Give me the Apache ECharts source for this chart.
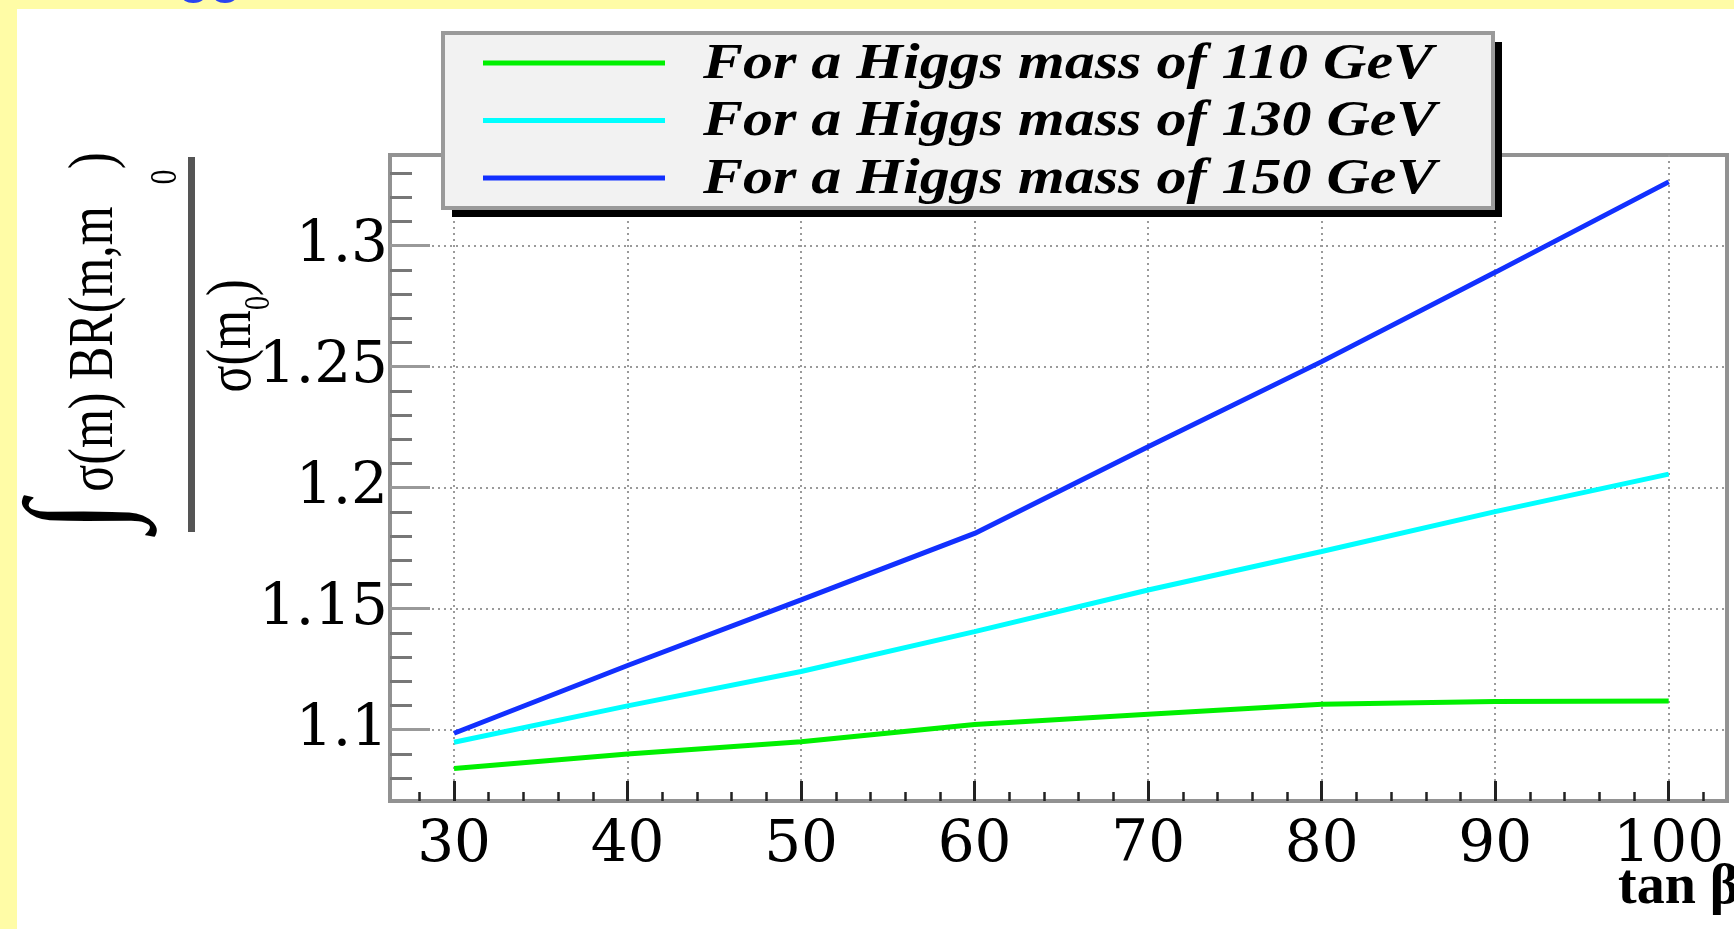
<!DOCTYPE html>
<html>
<head>
<meta charset="utf-8">
<script src="https://cdn.jsdelivr.net/npm/echarts@6/dist/echarts.min.js"></script>
<style>
  html, body { margin: 0; padding: 0; background: #ffffff; }
  #chart { width: 1734px; height: 929px; }
</style>
</head>
<body>
<div id="chart"></div>
<script>
// tan(beta) sample points and the integrated cross-section ratio for three Higgs masses
const tanBeta  = [30, 40, 50, 60, 70, 80, 90, 100];
const ratio110 = [1.0839, 1.0899, 1.0950, 1.1021, 1.1064, 1.1105, 1.1116, 1.1118];
const ratio130 = [1.0948, 1.1098, 1.1240, 1.1405, 1.1577, 1.1736, 1.1901, 1.2056];
const ratio150 = [1.0985, 1.1265, 1.1536, 1.1811, 1.2169, 1.2521, 1.2890, 1.3264];
const seriesNames = [
  'For a Higgs mass of 110 GeV',
  'For a Higgs mass of 130 GeV',
  'For a Higgs mass of 150 GeV'
];
const xTickValues = [30, 40, 50, 60, 70, 80, 90, 100];
const yTickValues = [1.1, 1.15, 1.2, 1.25, 1.3];
const xRange = [26.31, 103.36];
const yRange = [1.0705, 1.3375];

const seriesColors = ['#00f000', '#00ffff', '#1230ff'];
const seriesValues = [ratio110, ratio130, ratio150];

const chart = echarts.init(document.getElementById('chart'), null, { renderer: 'canvas' });

const serifTick = 'DejaVu Serif';
const serif = 'Liberation Serif';

// frame-style legend box (drawn as graphics so the text can be widened)
const legendX = 443, legendY = 33, legendW = 1050, legendH = 175;
const legendRows = [63, 120.5, 178];
const legendEls = [
  { type: 'rect', z: 100, shape: { x: legendX + 9, y: legendY + 9, width: legendW, height: legendH },
    style: { fill: '#000000' } },
  { type: 'rect', z: 101, shape: { x: legendX, y: legendY, width: legendW, height: legendH },
    style: { fill: '#f2f2f2', stroke: '#9a9a9a', lineWidth: 4 } }
];
seriesNames.forEach((name, i) => {
  legendEls.push({
    type: 'line', z: 102,
    shape: { x1: 483, y1: legendRows[i], x2: 665, y2: legendRows[i] },
    style: { stroke: seriesColors[i], lineWidth: 5 }
  });
  legendEls.push({
    type: 'text', z: 102, x: 703, y: legendRows[i] + 2, scaleX: 1.2,
    style: {
      text: name, fill: '#000000',
      fontFamily: serif, fontSize: 50, fontWeight: 'bold', fontStyle: 'italic',
      align: 'left', verticalAlign: 'middle', textAlign: 'left', textVerticalAlign: 'middle'
    }
  });
});

// rotated y-axis title: integral of sigma(m) BR(m,m0) over sigma(m0)
const yTitleEls = [
  { type: 'text', z: 50, x: 84, y: 516, rotation: Math.PI / 2, scaleY: 1.25,
    style: { text: '\u222B', fill: '#000000', fontFamily: serif, fontSize: 110,
      align: 'center', verticalAlign: 'middle', textAlign: 'center', textVerticalAlign: 'middle' } },
  { type: 'text', z: 50, x: 96, y: 322, rotation: Math.PI / 2, scaleY: 1.25,
    style: { text: '\u03C3(m) BR(m,m   )', fill: '#000000', fontFamily: serif, fontSize: 50,
      align: 'center', verticalAlign: 'middle', textAlign: 'center', textVerticalAlign: 'middle' } },
  { type: 'text', z: 50, x: 166, y: 177, rotation: Math.PI / 2, scaleY: 1.25,
    style: { text: '0', fill: '#000000', fontFamily: serif, fontSize: 30,
      align: 'center', verticalAlign: 'middle', textAlign: 'center', textVerticalAlign: 'middle' } },
  { type: 'rect', z: 50, shape: { x: 188, y: 157, width: 7, height: 375 },
    style: { fill: '#555555' } },
  { type: 'text', z: 50, x: 234, y: 336, rotation: Math.PI / 2, scaleY: 1.25,
    style: {
      text: '{a|\u03C3(m}{s|0}{a|)}', fill: '#000000',
      align: 'center', verticalAlign: 'middle', textAlign: 'center', textVerticalAlign: 'middle',
      rich: {
        a: { fontFamily: serif, fontSize: 50, lineHeight: 70, fill: '#000000' },
        s: { fontFamily: serif, fontSize: 28, lineHeight: 28, verticalAlign: 'bottom', fill: '#000000' }
      }
    } }
];

const option = {
  animation: false,
  backgroundColor: '#ffffff',
  grid: {
    left: 390, top: 155, right: 7, bottom: 128,
    show: true, borderColor: '#929292', borderWidth: 4,
    backgroundColor: 'transparent',
    containLabel: false, outerBoundsMode: 'none'
  },
  xAxis: {
    type: 'value',
    min: xRange[0], max: xRange[1],
    splitNumber: 7,
    axisLine: { show: false },
    axisTick: {
      show: true, inside: true, length: 20, customValues: xTickValues,
      lineStyle: { color: '#222222', width: 3 }
    },
    minorTick: { show: true, splitNumber: 5, length: 9, lineStyle: { color: '#222222', width: 2.5 } },
    axisLabel: {
      show: true, customValues: xTickValues, margin: 16,
      fontFamily: serifTick, fontSize: 58, color: '#000000'
    },
    splitLine: { show: true, lineStyle: { color: '#9a9a9a', width: 2, type: [2, 4] } }
  },
  yAxis: {
    type: 'value',
    min: yRange[0], max: yRange[1],
    splitNumber: 5,
    axisLine: { show: false },
    axisTick: {
      show: true, inside: true, length: 40, customValues: yTickValues,
      lineStyle: { color: '#999999', width: 3 }
    },
    minorTick: { show: true, splitNumber: 5, length: 22, lineStyle: { color: '#777777', width: 3 } },
    axisLabel: {
      show: true, customValues: yTickValues, margin: 2,
      fontFamily: serifTick, fontSize: 58, color: '#000000',
      formatter: v => String(+Number(v).toFixed(2))
    },
    splitLine: { show: true, lineStyle: { color: '#9a9a9a', width: 2, type: [2, 4] } }
  },
  series: seriesNames.map((name, i) => ({
    name: name,
    type: 'line',
    data: tanBeta.map((t, j) => [t, seriesValues[i][j]]),
    showSymbol: false,
    symbol: 'none',
    smooth: false,
    lineStyle: { color: seriesColors[i], width: 5 },
    z: 3
  })),
  graphic: [
    // slide border strips
    { type: 'rect', z: 0, shape: { x: 0, y: 0, width: 1734, height: 9 }, style: { fill: '#fffca6' } },
    { type: 'rect', z: 0, shape: { x: 0, y: 0, width: 17, height: 929 }, style: { fill: '#fffca6' } },
    { type: 'text', z: 1, x: 126, y: 4,
      style: { text: 'Higgs', fill: '#2a44f0', fontFamily: 'Liberation Sans', fontWeight: 'bold', fontSize: 52,
        align: 'left', verticalAlign: 'bottom', textAlign: 'left', textVerticalAlign: 'bottom' } },
    ...legendEls,
    ...yTitleEls,
    { type: 'text', z: 50, x: 1618, y: 917,
      style: { text: 'tan \u03B2', fill: '#000000', fontFamily: serif, fontWeight: 'bold', fontSize: 56,
        align: 'left', verticalAlign: 'bottom', textAlign: 'left', textVerticalAlign: 'bottom' } }
  ]
};

chart.setOption(option);
</script>
</body>
</html>
